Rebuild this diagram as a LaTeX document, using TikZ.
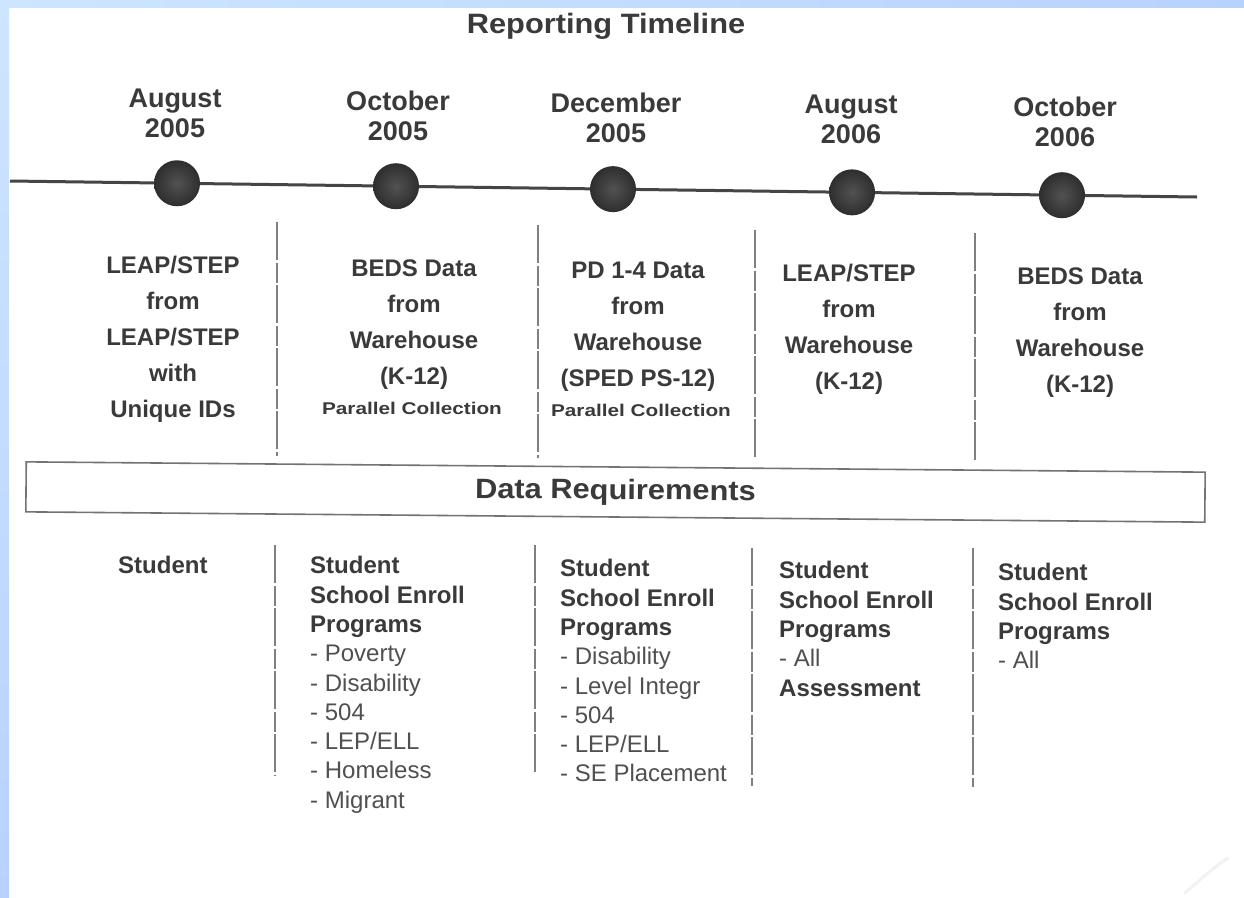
\documentclass[tikz,border=0pt]{standalone}
\usepackage{fontspec}
\setmainfont{Liberation Sans}
\usetikzlibrary{calc}
\definecolor{ink}{HTML}{3A3A3A}
\definecolor{softink}{HTML}{505050}
\definecolor{rulec}{HTML}{454545}
\definecolor{divc}{HTML}{808080}
\definecolor{bluelight}{HTML}{CDE5FF}
\definecolor{bluedark}{HTML}{B8D2FF}
\newcommand{\reqhead}[1]{\textbf{\color{ink}#1}}
\newcommand{\stretchx}[2]{\scalebox{#1}[1]{#2}}
\tikzset{
  titletext/.style={font=\fontsize{28}{32}\selectfont\bfseries, text=ink, inner sep=0pt},
  month/.style={font=\fontsize{27}{30.5}\selectfont\bfseries, text=ink, align=center, anchor=north, inner sep=0pt},
  srcbox/.style={font=\fontsize{24}{36}\selectfont\bfseries, text=ink, align=center, anchor=north, inner sep=0pt},
  parcoll/.style={font=\fontsize{17}{20}\selectfont\bfseries, text=ink, inner sep=0pt},
  reqlist/.style={font=\fontsize{24}{29.3}\selectfont, text=softink, align=left, anchor=north west, inner sep=0pt},
  dot/.style={circle, minimum size=46pt, inner sep=0pt, shading=radial, inner color=black!68, outer color=black!82},
  divider/.style={draw=divc, line width=1.2pt, dash pattern=on 38pt off 3pt on 20pt off 2pt},
  timeline/.style={draw=rulec, line width=3pt},
  reqbox/.style={draw=black!55, line width=1.6pt, minimum width=1179pt, minimum height=50pt,
    inner sep=0pt, rotate=-0.5, font=\fontsize{28}{32}\selectfont\bfseries, text=ink}
}
\begin{document}
\begin{tikzpicture}[x=1pt, y=-1pt]
\useasboundingbox (0,0) rectangle (1244,897);
% background and blue frame
\fill[white] (0,0) rectangle (1244,897);
\shade[top color=bluelight, bottom color=bluedark] (0,0) rectangle (9,897);
\shade[left color=bluelight, right color=bluedark] (0,0) rectangle (1244,7);
\draw[black!5, line width=3pt, line cap=round] (1185,893) .. controls (1200,880) and (1215,866) .. (1228,858);

% title
\node[titletext] (title) at (606,26) {\stretchx{1.1}{Reporting Timeline}};

% timeline
\coordinate (ls) at (10,181);
\coordinate (le) at (1197,197);
\draw[timeline] (ls) -- (le);
\node[dot] (d1) at ($(ls)!0.1407!(le)$) {};
\node[dot] (d2) at ($(ls)!0.3252!(le)$) {};
\node[dot] (d3) at ($(ls)!0.5080!(le)$) {};
\node[dot] (d4) at ($(ls)!0.7094!(le)$) {};
\node[dot] (d5) at ($(ls)!0.8863!(le)$) {};

% month labels
\node[month] (m1) at (175,88.3) {August\\2005};
\node[month] (m2) at (398,90.3) {October\\2005};
\node[month] (m3) at (616,92.3) {December\\2005};
\node[month] (m4) at (851,94.3) {August\\2006};
\node[month] (m5) at (1065,96.3) {October\\2006};

% data sources
\node[srcbox] (s1) at (173,256.4) {LEAP/STEP\\from\\LEAP/STEP\\with\\Unique IDs};
\node[srcbox] (s2) at (414,259.4) {BEDS Data\\from\\Warehouse\\(K-12)};
\node[srcbox] (s3) at (638,261.4) {PD 1-4 Data\\from\\Warehouse\\(SPED PS-12)};
\node[srcbox] (s4) at (849,264.4) {LEAP/STEP\\from\\Warehouse\\(K-12)};
\node[srcbox] (s5) at (1080,267.4) {BEDS Data\\from\\Warehouse\\(K-12)};
\node[parcoll] (p2) at (412,408) {\stretchx{1.22}{Parallel Collection}};
\node[parcoll] (p3) at (641,410) {\stretchx{1.22}{Parallel Collection}};

% upper dividers
\coordinate (ua1) at (277,222); \coordinate (ub1) at (277,456);
\coordinate (ua2) at (538,225); \coordinate (ub2) at (538,458);
\coordinate (ua3) at (755,230); \coordinate (ub3) at (755,459);
\coordinate (ua4) at (975,233); \coordinate (ub4) at (975,461);
\draw[divider] (ua1) -- (ub1);
\draw[divider] (ua2) -- (ub2);
\draw[divider] (ua3) -- (ub3);
\draw[divider] (ua4) -- (ub4);

% data requirements bar
\node[reqbox] (req) at (615.5,492) {\stretchx{1.1}{Data Requirements}};

% requirement lists
\node[reqlist] (r1) at (118,556.2) {\reqhead{Student}};
\node[reqlist] (r2) at (310,556.2) {\reqhead{Student}\\\reqhead{School Enroll}\\\reqhead{Programs}\\- Poverty\\- Disability\\- 504\\- LEP/ELL\\- Homeless\\- Migrant};
\node[reqlist] (r3) at (560,559.2) {\reqhead{Student}\\\reqhead{School Enroll}\\\reqhead{Programs}\\- Disability\\- Level Integr\\- 504\\- LEP/ELL\\- SE Placement};
\node[reqlist] (r4) at (779,561.2) {\reqhead{Student}\\\reqhead{School Enroll}\\\reqhead{Programs}\\- All\\\reqhead{Assessment}};
\node[reqlist] (r5) at (998,563.2) {\reqhead{Student}\\\reqhead{School Enroll}\\\reqhead{Programs}\\- All};

% lower dividers
\coordinate (la1) at (275,545); \coordinate (lb1) at (275,776);
\coordinate (la2) at (535,545); \coordinate (lb2) at (535,772);
\coordinate (la3) at (752,548); \coordinate (lb3) at (752,786);
\coordinate (la4) at (973,548); \coordinate (lb4) at (973,787);
\draw[divider] (la1) -- (lb1);
\draw[divider] (la2) -- (lb2);
\draw[divider] (la3) -- (lb3);
\draw[divider] (la4) -- (lb4);
\end{tikzpicture}
\end{document}
